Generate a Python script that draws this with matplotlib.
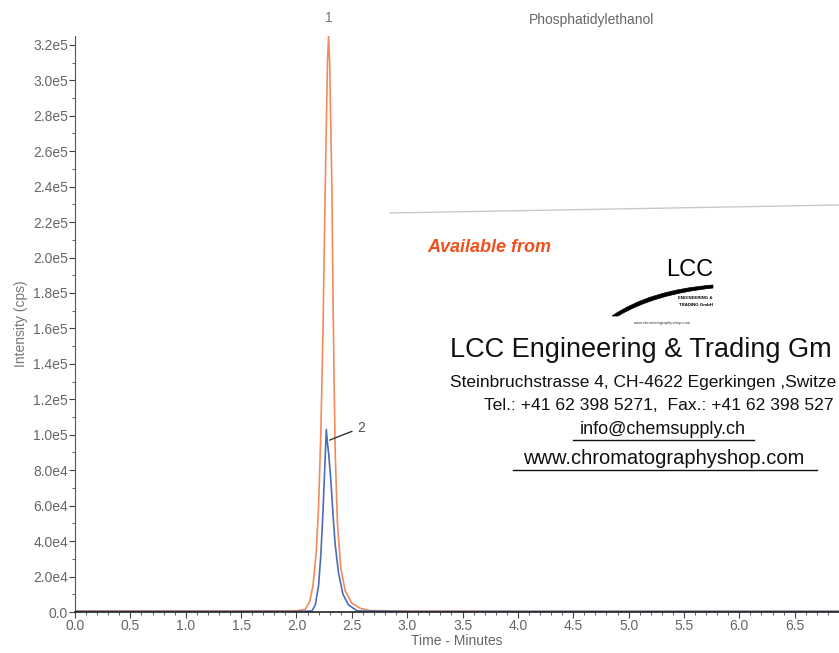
import matplotlib
matplotlib.use("Agg")
import matplotlib.pyplot as plt
from matplotlib.path import Path
from matplotlib.patches import PathPatch
from matplotlib.ticker import MultipleLocator, FormatStrFormatter, FuncFormatter

# Trace 1 (orange)
time_1 = [0.0, 0.5, 1.0, 1.5, 2.0, 2.08, 2.12, 2.15, 2.18, 2.20, 2.22, 2.24, 2.26,
          2.28, 2.29, 2.30, 2.32, 2.33, 2.34, 2.35, 2.37, 2.40, 2.44, 2.50, 2.58,
          2.66, 3.0, 4.0, 5.0, 6.0, 6.9]
intensity_1 = [600, 600, 600, 600, 700, 1500, 6000, 15000, 35000, 60000, 100000,
               160000, 240000, 310000, 325000, 310000, 240000, 180000, 130000, 90000,
               50000, 25000, 12000, 5000, 2000, 800, 500, 400, 400, 400, 400]

# Trace 2 (blue)
time_2 = [0.0, 1.0, 2.0, 2.14, 2.17, 2.20, 2.22, 2.24, 2.26, 2.27, 2.28, 2.29, 2.31,
          2.33, 2.35, 2.38, 2.42, 2.47, 2.55, 3.0, 4.0, 5.0, 6.0, 6.9]
intensity_2 = [300, 300, 300, 600, 4000, 15000, 32000, 57000, 88000, 103000, 95000,
               90000, 75000, 55000, 38000, 22000, 10000, 4000, 600, 300, 300, 300, 300, 300]

peak_labels = ["1", "2"]
peak_label_pos = [(2.29, 335000), (2.55, 104000)]
peak_arrow_tip = [None, (2.30, 97000)]

W, H = 839, 653
plt.rcParams["font.family"] = ["Liberation Sans", "DejaVu Sans"]

fig = plt.figure(figsize=(W / 100, H / 100), dpi=100)
ax = fig.add_axes([75 / W, 1 - 612 / H, 1 - 75 / W, (612 - 36) / H])

ax.plot(time_1, intensity_1, color="#f28a5c", lw=1.2)
ax.plot(time_2, intensity_2, color="#4a6db8", lw=1.2)

for lab, pos, tip in zip(peak_labels, peak_label_pos, peak_arrow_tip):
    if tip is None:
        ax.text(pos[0], pos[1], lab, color="#777777", fontsize=10, ha="center",
                va="center", clip_on=False)
    else:
        ax.annotate(lab, xy=tip, xytext=pos, color="#555555", fontsize=10,
                    va="center", ha="left",
                    arrowprops=dict(arrowstyle="-", color="#333333", lw=1,
                                    shrinkA=2, shrinkB=0))

ax.set_xlim(0, 6.9)
ax.set_ylim(0, 3.25e5)
ax.xaxis.set_major_locator(MultipleLocator(0.5))
ax.xaxis.set_minor_locator(MultipleLocator(0.1))
ax.xaxis.set_major_formatter(FormatStrFormatter("%.1f"))
ax.yaxis.set_major_locator(MultipleLocator(2e4))
ax.yaxis.set_minor_locator(MultipleLocator(1e4))


def sci(v, pos):
    if v == 0:
        return "0.0"
    s = f"{v:.1e}"
    m, e = s.split("e")
    return f"{m}e{int(e)}"


ax.yaxis.set_major_formatter(FuncFormatter(sci))
ax.tick_params(axis="both", which="major", labelsize=10, labelcolor="#666666",
               length=4, color="#444444", pad=1)
ax.tick_params(axis="both", which="minor", length=2, color="#444444")
ax.spines["top"].set_visible(False)
ax.spines["right"].set_visible(False)
ax.spines["left"].set_color("#555555")
ax.spines["bottom"].set_color("#222222")
ax.spines["bottom"].set_linewidth(1.2)
ax.set_xlabel("Time - Minutes", fontsize=10, color="#666666", labelpad=1)
ax.set_ylabel("Intensity (cps)", fontsize=10, color="#777777", labelpad=4)
fig.text(592 / W, 1 - 20 / H, "Phosphatidylethanol", fontsize=10, color="#666666",
         ha="center", va="center")


# Advertisement overlay, placed in figure pixel positions
def px(x, y):
    return (x / W, 1 - y / H)


fig.add_artist(plt.Line2D([390 / W, 1.0], [1 - 213 / H, 1 - 205 / H],
                          transform=fig.transFigure, color="#c8c8c8", lw=1))
ad_font = ["Liberation Sans", "DejaVu Sans"]
fig.text(*px(427, 248), "Available from", fontsize=13, color="#f0501e",
         fontweight="bold", style="italic", family=ad_font, va="center")
fig.text(*px(713, 270), "LCC", fontsize=17, color="black", family=ad_font,
         ha="right", va="center")
fig.text(*px(713, 298), "ENGINEERING &", fontsize=3.2, color="black",
         family=ad_font, ha="right", va="center", fontweight="bold")
fig.text(*px(713, 305), "TRADING GmbH", fontsize=3.2, color="black",
         family=ad_font, ha="right", va="center", fontweight="bold")
fig.text(*px(662, 323), "www.chromatographyshop.com", fontsize=3, color="#333333",
         family=ad_font, ha="center", va="center", style="italic")
swoosh = Path([px(612, 316), px(650, 290), px(713, 285), px(713, 288),
               px(655, 294), px(618, 316), px(612, 316)],
              [Path.MOVETO, Path.CURVE3, Path.CURVE3, Path.LINETO,
               Path.CURVE3, Path.CURVE3, Path.CLOSEPOLY])
fig.add_artist(PathPatch(swoosh, transform=fig.transFigure, facecolor="black",
                         edgecolor="black", lw=0.5))

# the scanned card is cut by the right edge, so only the visible part is written
fig.text(*px(450, 350), "LCC Engineering & Trading Gm", fontsize=19.5,
         color="#111111", family=ad_font, va="center")
fig.text(*px(450, 382), "Steinbruchstrasse 4, CH-4622 Egerkingen ,Switze",
         fontsize=12.5, color="#111111", family=ad_font, va="center")
fig.text(*px(484, 406), "Tel.: +41 62 398 5271,  Fax.: +41 62 398 527",
         fontsize=12.6, color="#111111", family=ad_font, va="center")
fig.text(*px(663, 430), "info@chemsupply.ch", fontsize=13, color="#111111",
         family=ad_font, ha="center", va="center")
fig.text(*px(664, 458), "www.chromatographyshop.com", fontsize=14.5, color="#111111",
         family=ad_font, ha="center", va="center")
fig.add_artist(plt.Line2D([573 / W, 754 / W], [1 - 440 / H, 1 - 440 / H],
                          transform=fig.transFigure, color="#111111", lw=1))
fig.add_artist(plt.Line2D([513 / W, 817 / W], [1 - 470 / H, 1 - 470 / H],
                          transform=fig.transFigure, color="#111111", lw=1))

fig.savefig("out.png", dpi=100, facecolor="white")
